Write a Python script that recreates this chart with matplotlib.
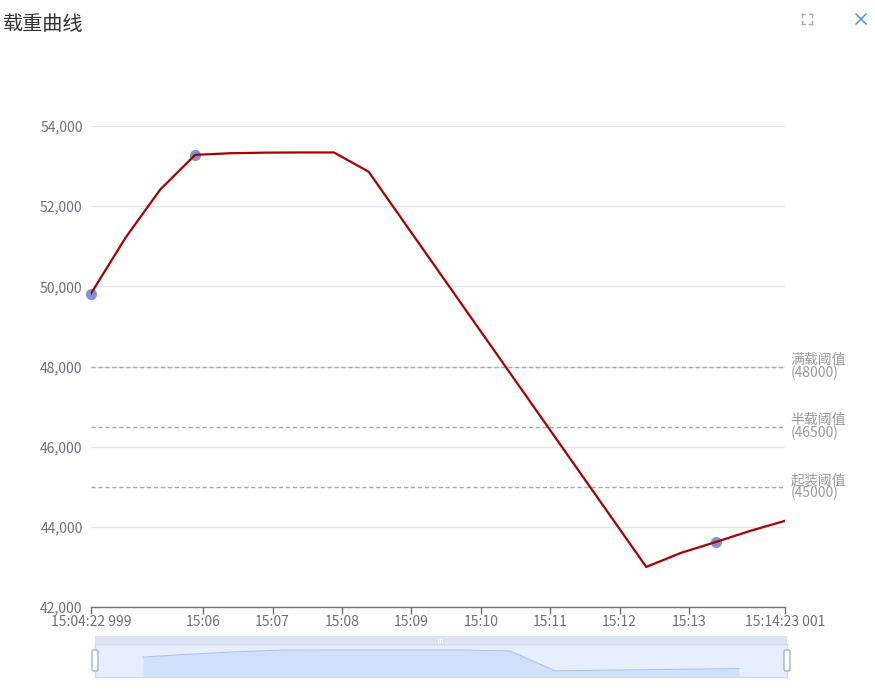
import numpy as np
import pandas as pd
import matplotlib
matplotlib.use("Agg")
import matplotlib.pyplot as plt
from matplotlib.patches import Rectangle, FancyBboxPatch
from matplotlib.lines import Line2D

plt.rcParams['font.family'] = ['Noto Sans CJK SC', 'DejaVu Sans']

# ---------------------------------------------------------------------------
# Data
# ---------------------------------------------------------------------------
TITLE = "载重曲线"
DAY = "2024-01-01 "
times = ["15:04:22.999", "15:04:53", "15:05:23", "15:05:53", "15:06:23",
         "15:06:53", "15:07:23", "15:07:53", "15:08:23",
         "15:12:23", "15:12:53", "15:13:23", "15:13:53", "15:14:23.001"]
loads = [49820, 51220, 52420, 53280, 53320, 53335, 53340, 53340, 52860,
         43000, 43350, 43620, 43900, 44150]
marked_idx = [0, 3, 11]

thresholds = [48000, 46500, 45000]
threshold_names = ["满载阈值", "半载阈值", "起装阈值"]

tick_times = ["15:04:22.999", "15:06:00", "15:07:00", "15:08:00", "15:09:00",
              "15:10:00", "15:11:00", "15:12:00", "15:13:00", "15:14:23.001"]
tick_labels = ["15:04:22 999", "15:06", "15:07", "15:08", "15:09",
               "15:10", "15:11", "15:12", "15:13", "15:14:23 001"]
y_ticks = [42000, 44000, 46000, 48000, 50000, 52000, 54000]

t = pd.to_datetime([DAY + s for s in times], format="mixed")
tt = pd.to_datetime([DAY + s for s in tick_times], format="mixed")

# ---------------------------------------------------------------------------
# Plot
# ---------------------------------------------------------------------------
W, H = 875, 692
fig = plt.figure(figsize=(W / 100, H / 100), dpi=100)

def fx(px):
    return px / W

def fy(py):
    return 1 - py / H

ax = fig.add_axes([fx(91), fy(607), fx(785 - 91), (607 - 126) / H])
ax.set_xlim(t[0], t[-1])
ax.set_ylim(42000, 54000)

for v in y_ticks[1:]:
    ax.axhline(v, color="#e0e6f1", lw=1, zorder=1)

for v, name in zip(thresholds, threshold_names):
    ax.axhline(v, color="#a8a8a8", lw=1, ls=(0, (3, 2)), zorder=2)
    ax.annotate(f"{name}\n({v})", xy=(1, v), xycoords=("axes fraction", "data"),
                xytext=(4, 0), textcoords="offset points", ha="left", va="center",
                fontsize=10, color="#9a9a9a", linespacing=0.9)

ax.plot(t, loads, color="#a80000", lw=1.6, zorder=4, solid_joinstyle="miter")
ax.plot(t[marked_idx], [loads[i] for i in marked_idx], "o", ms=8,
        color="#5470c6", alpha=0.75, mec="none", zorder=3, clip_on=False)

ax.set_xticks(tt)
ax.set_xticklabels(tick_labels)
ax.set_yticks(y_ticks)
ax.set_yticklabels([f"{v:,}" for v in y_ticks])
ax.tick_params(axis="x", colors="#6e7079", labelsize=10, length=5, width=1,
               pad=0.5, labelcolor="#6e7079")
ax.tick_params(axis="y", length=0, pad=6, labelsize=10, labelcolor="#6e7079")
for side in ["top", "right", "left"]:
    ax.spines[side].set_visible(False)
ax.spines["bottom"].set_color("#6e7079")
ax.spines["bottom"].set_linewidth(1)

fig.text(fx(3), fy(25), TITLE, fontsize=14.5, color="#333333", ha="left", va="center")

# top-right toolbox icons: fullscreen corners and close cross
cx, cy, s, c = 807, 19, 5, 3
for dx, dy in [(-1, -1), (1, -1), (-1, 1), (1, 1)]:
    x0, y0 = cx + dx * s, cy + dy * s
    fig.add_artist(Line2D([fx(x0), fx(x0 - dx * c)], [fy(y0), fy(y0)],
                          color="#aaaaaa", lw=1))
    fig.add_artist(Line2D([fx(x0), fx(x0)], [fy(y0), fy(y0 - dy * c)],
                          color="#aaaaaa", lw=1))
xx, xy, r = 861, 19, 5
fig.add_artist(Line2D([fx(xx - r), fx(xx + r)], [fy(xy - r), fy(xy + r)],
                      color="#3b8cff", lw=1))
fig.add_artist(Line2D([fx(xx - r), fx(xx + r)], [fy(xy + r), fy(xy - r)],
                      color="#3b8cff", lw=1))

# dataZoom slider
fig.add_artist(Rectangle((fx(95), fy(644)), fx(787 - 95), 8 / H,
                         facecolor="#dee3f1", edgecolor="none"))
zax = fig.add_axes([fx(95), fy(677), fx(787 - 95), 33 / H])
zax.set_facecolor("#e7eefd")
idx = np.arange(len(loads))
zax.fill_between(idx, loads, 0, color="#d2dffb", lw=0)
zax.plot(idx, loads, color="#abc3f3", lw=0.8)
zax.set_xlim(-1.05, len(loads) - 1 + 1.05)
zax.set_ylim(40000, 56300)
zax.set_xticks([])
zax.set_yticks([])
for sp in zax.spines.values():
    sp.set_color("#d2daec")
    sp.set_linewidth(1)

for hx in [95, 787]:
    fig.add_artist(FancyBboxPatch((fx(hx - 3), fy(671)), fx(6), 21 / H,
                                  boxstyle="round,pad=0,rounding_size=0.002",
                                  facecolor="white", edgecolor="#a7b4cc", lw=1))
for k in range(3):
    hx = 438 + k * 2
    fig.add_artist(Line2D([fx(hx), fx(hx)], [fy(638.5), fy(641.5)],
                          color="white", lw=0.8))

fig.savefig("out.png", dpi=100)
